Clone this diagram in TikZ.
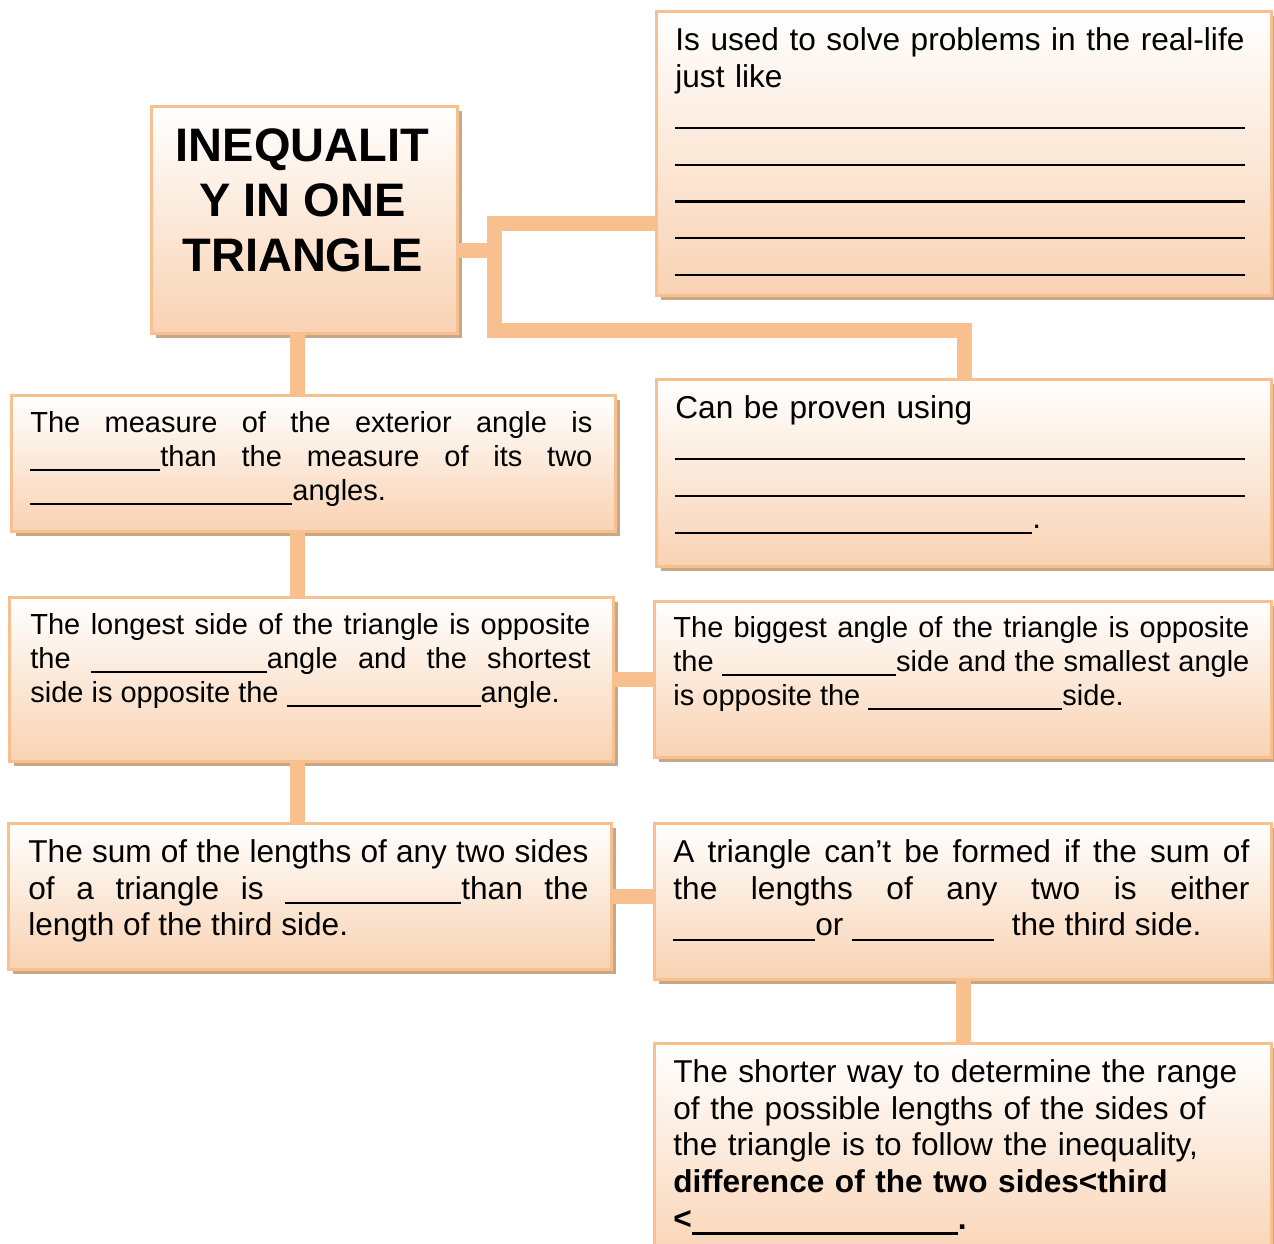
\documentclass[tikz,border=0pt]{standalone}
\usepackage{fontspec}
\setmainfont{Liberation Sans}
\usetikzlibrary{positioning, shadows}

\definecolor{peachline}{RGB}{249,192,143}
\definecolor{peachfill}{RGB}{249,210,178}
\definecolor{tanshadow}{RGB}{200,166,136}

% blank to be filled in
\newcommand{\fillin}[1]{\rule[-0.16em]{#1}{0.07em}}

\begin{document}
\begin{tikzpicture}[
        x = 0.5pt, y = -0.5pt,
        card/.style = {rectangle, anchor = north west, draw = peachline, line width = 1.5pt,
            top color = white, bottom color = peachfill,
            drop shadow = {shadow xshift = 2pt, shadow yshift = -2pt, fill = tanshadow, opacity = 1}},
        bigtext/.style = {anchor = north west, inner sep = 0pt, align = justify,
            font = \fontsize{15.8pt}{18.4pt}\selectfont},
        smalltext/.style = {bigtext, font = \fontsize{14.5pt}{17.1pt}\selectfont},
        link/.style = {draw = peachline, line width = 7.5pt}
    ]
      \useasboundingbox (0,0) rectangle (1274,1243);

      % the boxes
      \node[card, minimum width = 153pt, minimum height = 113.5pt] (title) at (150,105) {};
      \node[card, minimum width = 307.5pt, minimum height = 142pt] (used) at (655,10) {};
      \node[card, minimum width = 307.5pt, minimum height = 93.5pt] (proven) at (655,378) {};
      \node[card, minimum width = 302pt, minimum height = 68pt] (exterior) at (10,394) {};
      \node[card, minimum width = 302pt, minimum height = 82pt] (longest) at (8,596) {};
      \node[card, minimum width = 308.5pt, minimum height = 78pt] (biggest) at (653,600) {};
      \node[card, minimum width = 301.5pt, minimum height = 73pt] (sum) at (7,822) {};
      \node[card, minimum width = 308.5pt, minimum height = 78pt] (cannot) at (653,822) {};
      \node[card, minimum width = 308.5pt, minimum height = 112pt] (shorter) at (653,1042) {};

      % the texts
      \node[anchor = north, inner sep = 0pt, align = center,
            font = \fontsize{23.5pt}{27.5pt}\selectfont\bfseries] (titletext)
            at ([xshift = -1pt, yshift = -11.5pt]title.north) {INEQUALIT\\Y IN ONE\\TRIANGLE};
      \node[bigtext, text width = 292pt, align = left] (usedtext) at ([shift = {(20,17)}]used.north west)
            {Is used to solve problems in the \mbox{real-life}\\just like\\
             \fillin{285pt}\\\fillin{285pt}\\\fillin{285pt}\\\fillin{285pt}\\\fillin{285pt}};
      \node[bigtext, text width = 285pt, align = left] (proventext) at ([shift = {(20,17)}]proven.north west)
            {Can be proven using\\\fillin{285pt}\\\fillin{285pt}\\\fillin{178.5pt}.};
      \node[smalltext, text width = 281pt] (exteriortext) at ([shift = {(20,17)}]exterior.north west)
            {The measure of the exterior angle is\linebreak
             \fillin{65pt}than the measure of its two\linebreak
             \fillin{131pt}angles.};
      \node[smalltext, text width = 280pt] (longesttext) at ([shift = {(22,17)}]longest.north west)
            {The longest side of the triangle is opposite\linebreak
             the \fillin{88pt}angle and the shortest\linebreak
             side is opposite the \fillin{97pt}angle.};
      \node[smalltext, text width = 288pt] (biggesttext) at ([shift = {(20,16)}]biggest.north west)
            {The biggest angle of the triangle is opposite\linebreak
             the \fillin{87pt}side and the smallest angle\linebreak
             is opposite the \fillin{97pt}side.};
      \node[bigtext, text width = 280pt] (sumtext) at ([shift = {(21,17)}]sum.north west)
            {The sum of the lengths of any two sides\linebreak
             of a triangle is \fillin{88pt}than the\linebreak
             length of the third side.};
      \node[bigtext, text width = 288pt] (cannottext) at ([shift = {(20,17)}]cannot.north west)
            {A triangle can’t be formed if the sum of\linebreak
             the lengths of any two is either\linebreak
             \fillin{71pt}or \fillin{71pt}\ \ the third side.};
      \node[bigtext, text width = 290pt, align = left] (shortertext) at ([shift = {(20,17)}]shorter.north west)
            {The shorter way to determine the range\\
             of the possible lengths of the sides of\\
             the triangle is to follow the inequality,\\
             \textbf{difference of the two sides<third}\\
             \textbf{<\fillin{133pt}.}};

      % the connectors
      \coordinate (spine) at (297,0);
      \coordinate (hub) at (494,250);
      \coordinate (forktop) at (494,223);
      \coordinate (forkbot) at (494,330);

      \draw[link] (title.south -| spine) -- (exterior.north -| spine);
      \draw[link] (exterior.south -| spine) -- (longest.north -| spine);
      \draw[link] (longest.south -| spine) -- (sum.north -| spine);
      \draw[link] (longest.east) -- (longest.east -| biggest.west);
      \draw[link] (sum.east) -- (sum.east -| cannot.west);
      \draw[link] (cannot.south) -- (shorter.north);
      \draw[link] (hub -| title.east) -- (hub);
      \draw[link] (forktop -| used.west) -- (forktop) -- (forkbot) -- (forkbot -| proven.north) -- (proven.north);
    \end{tikzpicture}
\end{document}
